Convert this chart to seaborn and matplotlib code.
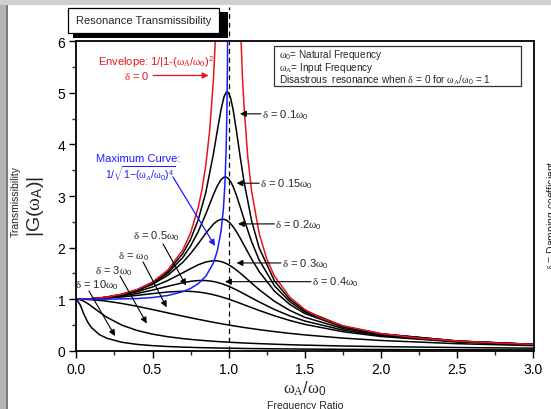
import numpy as np
import pandas as pd
import matplotlib
matplotlib.use("Agg")
import matplotlib.pyplot as plt
import seaborn as sns
from matplotlib.patches import Rectangle

# ---------------- data ----------------
ratio = [0.0, 0.025, 0.05, 0.075, 0.1, 0.15, 0.2, 0.3, 0.4, 0.5, 0.6, 0.7, 0.75, 0.8,
         0.85, 0.9, 0.925, 0.95, 0.97, 0.985, 1.0, 1.015, 1.03, 1.05, 1.075, 1.1,
         1.15, 1.2, 1.3, 1.4, 1.5, 1.75, 2.0, 2.5, 3.0]

g_d010 = [1.0, 1.001, 1.002, 1.006, 1.010, 1.023, 1.041, 1.097, 1.185, 1.322, 1.536, 1.891,
          2.162, 2.538, 3.073, 3.821, 4.261, 4.683, 4.931, 5.019, 5.0, 4.872, 4.655, 4.279,
          3.768, 3.288, 2.525, 1.995, 1.356, 1.000, 0.778, 0.478, 0.330, 0.190, 0.125]
g_d015 = [1.0, 1.001, 1.002, 1.005, 1.010, 1.022, 1.040, 1.094, 1.179, 1.307, 1.504, 1.813,
          2.033, 2.311, 2.653, 3.029, 3.197, 3.320, 3.368, 3.367, 3.333, 3.268, 3.175, 3.019,
          2.793, 2.557, 2.117, 1.759, 1.262, 0.954, 0.753, 0.470, 0.327, 0.189, 0.124]
g_d020 = [1.0, 1.001, 1.002, 1.005, 1.009, 1.021, 1.038, 1.089, 1.169, 1.288, 1.463, 1.719,
          1.885, 2.076, 2.279, 2.457, 2.518, 2.549, 2.548, 2.531, 2.5, 2.456, 2.401, 2.313,
          2.187, 2.051, 1.780, 1.536, 1.157, 0.900, 0.721, 0.459, 0.322, 0.187, 0.124]
g_d030 = [1.0, 1.001, 1.002, 1.005, 1.008, 1.019, 1.034, 1.078, 1.145, 1.238, 1.362, 1.514,
          1.593, 1.667, 1.722, 1.747, 1.744, 1.729, 1.709, 1.690, 1.667, 1.640, 1.610, 1.567,
          1.507, 1.444, 1.313, 1.185, 0.960, 0.784, 0.649, 0.432, 0.309, 0.183, 0.122]
g_d040 = [1.0, 1.000, 1.002, 1.004, 1.007, 1.015, 1.027, 1.063, 1.112, 1.176, 1.250, 1.320,
          1.347, 1.362, 1.362, 1.343, 1.326, 1.305, 1.285, 1.268, 1.250, 1.231, 1.210, 1.182,
          1.144, 1.105, 1.026, 0.947, 0.801, 0.678, 0.577, 0.401, 0.294, 0.178, 0.120]
g_d050 = [1.0, 1.000, 1.001, 1.003, 1.005, 1.011, 1.020, 1.044, 1.075, 1.109, 1.140, 1.155,
          1.152, 1.140, 1.118, 1.087, 1.068, 1.047, 1.029, 1.015, 1.0, 0.985, 0.969, 0.948,
          0.921, 0.893, 0.837, 0.782, 0.679, 0.589, 0.512, 0.370, 0.277, 0.172, 0.117]
g_d1 = [1.0, 0.999, 0.998, 0.994, 0.990, 0.978, 0.962, 0.917, 0.862, 0.800, 0.735, 0.671,
        0.640, 0.610, 0.581, 0.552, 0.539, 0.526, 0.515, 0.508, 0.500, 0.493, 0.485, 0.476,
        0.464, 0.452, 0.431, 0.410, 0.372, 0.338, 0.308, 0.246, 0.200, 0.138, 0.100]
g_d3 = [1.0, 0.990, 0.960, 0.916, 0.864, 0.753, 0.651, 0.496, 0.393, 0.323, 0.273, 0.236,
        0.221, 0.208, 0.196, 0.185, 0.180, 0.175, 0.172, 0.169, 0.167, 0.164, 0.162, 0.159,
        0.155, 0.151, 0.145, 0.139, 0.128, 0.118, 0.110, 0.093, 0.081, 0.063, 0.051]
g_d10 = [1.0, 0.895, 0.708, 0.556, 0.448, 0.317, 0.243, 0.165, 0.124, 0.100, 0.083, 0.071,
         0.067, 0.062, 0.059, 0.056, 0.054, 0.053, 0.052, 0.051, 0.050, 0.049, 0.049, 0.048,
         0.047, 0.045, 0.043, 0.042, 0.038, 0.036, 0.033, 0.029, 0.025, 0.020, 0.017]

env_left_x = [0.0, 0.1, 0.2, 0.3, 0.4, 0.5, 0.6, 0.7, 0.75, 0.8, 0.825, 0.85, 0.875, 0.9, 0.92]
env_left_y = [1.0, 1.010, 1.042, 1.099, 1.190, 1.333, 1.563, 1.961, 2.286, 2.778, 3.131,
              3.604, 4.267, 5.263, 6.510]
env_right_x = [1.07, 1.09, 1.1, 1.125, 1.15, 1.2, 1.25, 1.3, 1.4, 1.5, 1.6, 1.75, 2.0, 2.25,
               2.5, 2.75, 3.0]
env_right_y = [6.901, 5.316, 4.762, 3.765, 3.101, 2.273, 1.778, 1.449, 1.042, 0.800, 0.641,
               0.485, 0.333, 0.246, 0.190, 0.152, 0.125]

max_x = [0.0, 0.2, 0.4, 0.5, 0.6, 0.7, 0.75, 0.8, 0.85, 0.9, 0.925, 0.95, 0.965, 0.975,
         0.983, 0.988, 0.992, 0.995]
max_y = [1.0, 1.001, 1.013, 1.033, 1.072, 1.147, 1.209, 1.301, 1.446, 1.705, 1.932, 2.322,
         2.744, 3.222, 3.884, 4.606, 5.624, 7.098]

x_ticks = [0.0, 0.5, 1.0, 1.5, 2.0, 2.5, 3.0]
x_tick_labels = ["0.0", "0.5", "1.0", "1.5", "2.0", "2.5", "3.0"]
y_ticks = [0, 1, 2, 3, 4, 5, 6]
y_tick_labels = ["0", "1", "2", "3", "4", "5", "6"]

damped = {"0.1": g_d010, "0.15": g_d015, "0.2": g_d020, "0.3": g_d030, "0.4": g_d040,
          "0.5": g_d050, "1": g_d1, "3": g_d3, "10": g_d10}

# ---------------- style ----------------
sns.set_theme(style="white")
plt.rcParams["font.family"] = ["Liberation Sans", "DejaVu Sans"]
plt.rcParams["mathtext.fontset"] = "custom"
plt.rcParams["mathtext.rm"] = "Liberation Sans"
plt.rcParams["mathtext.it"] = "Liberation Serif"
plt.rcParams["mathtext.bf"] = "Liberation Sans:bold"
plt.rcParams["mathtext.sf"] = "Liberation Sans"

W, H = 551, 410
fig = plt.figure(figsize=(W / 100, H / 100), dpi=100)
fig.patch.set_facecolor("white")

def fx(px):
    return px / W

def fy(py):
    return 1 - py / H

ax_l, ax_r, ax_t, ax_b = 76.3, 533.5, 42.3, 351.8
ax = fig.add_axes([fx(ax_l), fy(ax_b), fx(ax_r) - fx(ax_l), fy(ax_t) - fy(ax_b)])
ax.set_facecolor("white")

# damped curves
for name, vals in damped.items():
    sns.lineplot(x=ratio, y=vals, ax=ax, color="black", lw=1.1, estimator=None,
                 sort=False, legend=False)

# envelope
sns.lineplot(x=env_left_x, y=env_left_y, ax=ax, color="#e8141b", lw=1.1,
             estimator=None, sort=False, legend=False)
sns.lineplot(x=env_right_x, y=env_right_y, ax=ax, color="#e8141b", lw=1.1,
             estimator=None, sort=False, legend=False)
# maximum curve
sns.lineplot(x=max_x, y=max_y, ax=ax, color="#1a1aff", lw=1.1,
             estimator=None, sort=False, legend=False)

# vertical dashed resonance line (extends above plot)
ax.plot([1.0, 1.0], [0, 6.66], color="black", lw=0.9, ls=(0, (4, 3)), clip_on=False,
        zorder=1)

ax.set_xlim(0, 3.0)
ax.set_ylim(0, 6)
ax.set_xticks(x_ticks)
ax.set_xticklabels(x_tick_labels)
ax.set_yticks(y_ticks)
ax.set_yticklabels(y_tick_labels)
ax.set_xticks(np.arange(0.25, 3.0, 0.5), minor=True)
ax.set_yticks(np.arange(0.5, 6.0, 1.0), minor=True)
ax.tick_params(axis="both", which="major", direction="out", length=5, width=1.0,
               labelsize=10, pad=3, bottom=True, left=True, top=False, right=False,
               colors="black")
ax.tick_params(axis="both", which="minor", direction="out", length=3, width=1.0,
               bottom=True, left=True, top=False, right=False)
for side in ["left", "bottom", "right", "top"]:
    ax.spines[side].set_visible(True)
    ax.spines[side].set_color("black")
    ax.spines[side].set_linewidth(1.3)
ax.set_xlabel("")
ax.set_ylabel("")

# ---------------- annotations ----------------
arrow_k = dict(arrowstyle="-|>", color="black", lw=0.8, mutation_scale=9,
               shrinkA=0, shrinkB=0)
lab_fs = 8

right_labels = [
    (r"$\delta$ = 0.1$\omega_0$", 1.212, 4.594, 1.074),
    (r"$\delta$ = 0.15$\omega_0$", 1.200, 3.249, 1.052),
    (r"$\delta$ = 0.2$\omega_0$", 1.300, 2.460, 1.061),
    (r"$\delta$ = 0.3$\omega_0$", 1.343, 1.703, 1.052),
    (r"$\delta$ = 0.4$\omega_0$", 1.540, 1.340, 0.976),
]
for txt, tx, ty, hx in right_labels:
    ax.text(tx + 0.005, ty, txt, ha="left", va="center", fontsize=lab_fs)
    ax.annotate("", xy=(hx, ty), xytext=(tx, ty), arrowprops=arrow_k)

left_labels = [
    (r"$\delta$ = 0.5$\omega_0$", 0.527, 2.233, (0.569, 2.072), (0.720, 1.267)),
    (r"$\delta$ = $\omega_0$", 0.379, 1.845, (0.438, 1.723), (0.593, 0.844)),
    (r"$\delta$ = 3$\omega_0$", 0.247, 1.554, (0.287, 1.451), (0.462, 0.530)),
    (r"$\delta$ = 10$\omega_0$", 0.134, 1.296, (0.083, 1.160), (0.254, 0.287)),
]
for txt, tx, ty, tail, head in left_labels:
    ax.text(tx, ty, txt, ha="center", va="center", fontsize=lab_fs)
    ax.annotate("", xy=head, xytext=tail, arrowprops=arrow_k)

red = "#e8141b"
ax.text(0.925, 5.612, r"Envelope: 1/|1-($\omega_A$/$\omega_0$)$^2$|", ha="right",
        va="center", fontsize=lab_fs, color=red)
ax.text(0.484, 5.337, r"$\delta$ = 0", ha="right", va="center", fontsize=lab_fs, color=red)
ax.annotate("", xy=(0.868, 5.337), xytext=(0.505, 5.337),
            arrowprops=dict(arrowstyle="-|>", color=red, lw=0.9, mutation_scale=9,
                            shrinkA=0, shrinkB=0))

blue = "#1a1aff"
ax.text(0.408, 3.740, "Maximum Curve:", ha="center", va="center", fontsize=lab_fs,
        color=blue)
ax.text(0.418, 3.463, r"1/$\sqrt{\mathrm{1}\mathrm{-}(\omega_A/\omega_0)^4}$", ha="center",
        va="center", fontsize=lab_fs - 0.5, color=blue)
ax.annotate("", xy=(0.910, 2.033), xytext=(0.634, 3.371),
            arrowprops=dict(arrowstyle="-|>", color=blue, lw=0.9, mutation_scale=9,
                            shrinkA=0, shrinkB=0))

# info box (top right)
info_box = Rectangle((fx(274), fy(87)), fx(521) - fx(274), fy(47) - fy(87),
                     transform=fig.transFigure, facecolor="white", edgecolor="#333333",
                     lw=0.9, zorder=5)
fig.add_artist(info_box)
info_lines = [
    (55.5, r"$\omega_0$= Natural Frequency"),
    (68.0, r"$\omega_A$= Input Frequency"),
    (80.5, r"Disastrous  resonance when $\delta$ = 0 for $\omega_A$/$\omega_0$ = 1"),
]
for py, txt in info_lines:
    fig.text(fx(279), fy(py), txt, ha="left", va="center", fontsize=7.2, zorder=6)

# title box with shadow
shadow = Rectangle((fx(73), fy(38.5)), fx(228) - fx(73), fy(13) - fy(38.5),
                   transform=fig.transFigure, facecolor="black", edgecolor="black",
                   lw=0, zorder=5)
fig.add_artist(shadow)
tbox = Rectangle((fx(68), fy(33.5)), fx(219) - fx(68), fy(9) - fy(33.5),
                 transform=fig.transFigure, facecolor="white", edgecolor="black",
                 lw=0.9, zorder=6)
fig.add_artist(tbox)
fig.text(fx(143.5), fy(21.5), "Resonance Transmissibility", ha="center", va="center",
         fontsize=8, zorder=7)

# axis titles
fig.text(fx(16), fy(202), "Transmissibility", rotation=90, ha="center", va="center",
         fontsize=7.5)
fig.text(fx(35), fy(207), r"$|\mathrm{G}(\omega_{\mathrm{A}})|$", rotation=90,
         ha="center", va="center", fontsize=14)
fig.text(fx(305), fy(389), r"$\omega_A/\omega_0$", ha="center", va="center", fontsize=12)
fig.text(fx(305), fy(406), "Frequency Ratio", ha="center", va="center", fontsize=7.5)
fig.text(fx(545), fy(215), r"$\delta$ = Damping coefficient", rotation=90, ha="left",
         va="center", fontsize=7.5)

# window frame (grey edges)
fig.add_artist(Rectangle((0, 0), fx(7), 1, transform=fig.transFigure,
                         facecolor="#b4b4b4", edgecolor="none", zorder=0))
fig.add_artist(Rectangle((fx(6), 0), fx(1.5), 1, transform=fig.transFigure,
                         facecolor="#7a7a7a", edgecolor="none", zorder=0))
fig.add_artist(Rectangle((0, fy(6)), 1, fy(0) - fy(6), transform=fig.transFigure,
                         facecolor="#cfcfcf", edgecolor="none", zorder=0))

fig.savefig("out.png", dpi=100, facecolor="white")
